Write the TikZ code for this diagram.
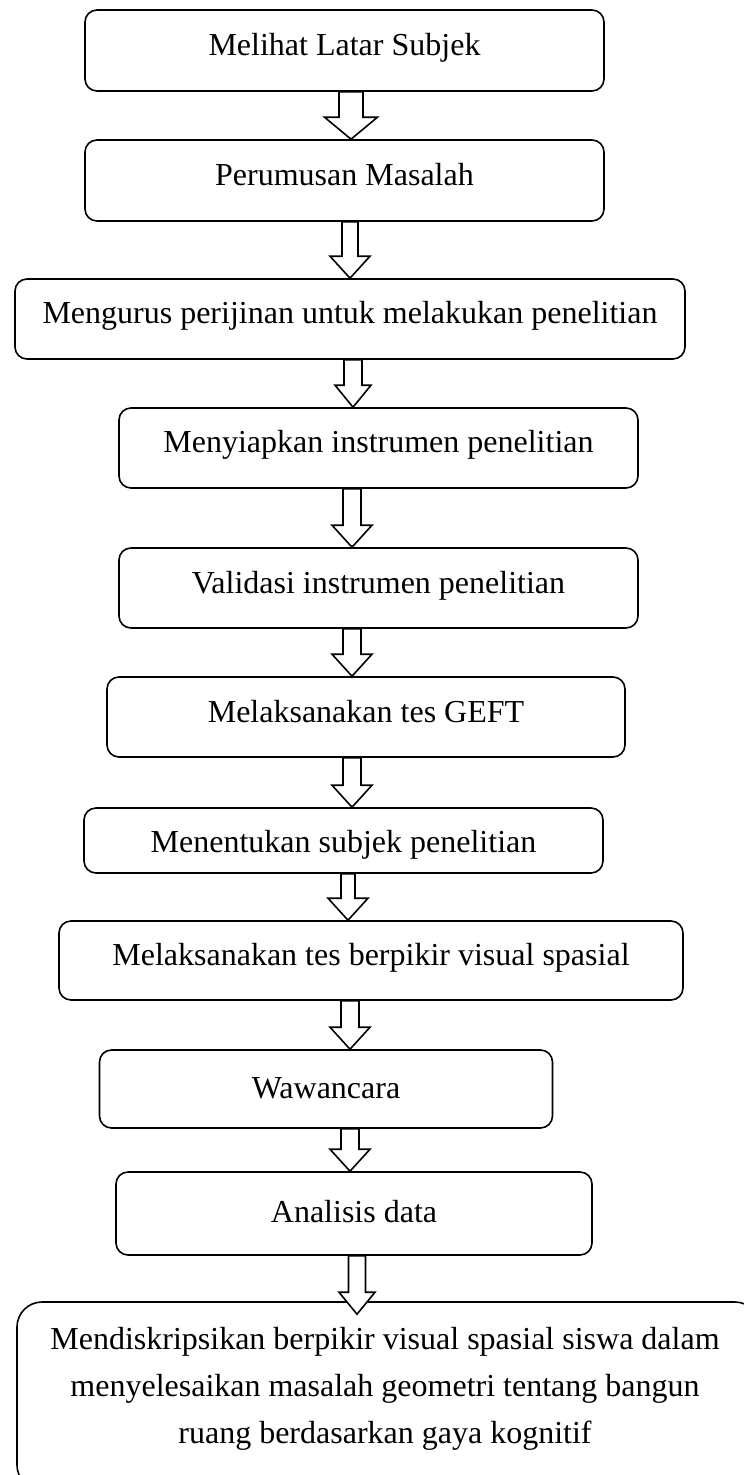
\documentclass[tikz,border=0pt]{standalone}
\usepackage{fontspec}
\setmainfont{Liberation Serif}
\usetikzlibrary{calc}
\newcommand\blockarr[6]{% x, from, to, stem half, head half, tip overlap
  \draw[barrow] let \p1=(#2.south), \p2=(#3.north) in
    (#1-#4,\y1) -- (#1+#4,\y1) -- (#1+#4,\y2+22pt-#6pt) -- (#1+#5,\y2+22pt-#6pt)
    -- (#1,\y2-#6pt) -- (#1-#5,\y2+22pt-#6pt) -- (#1-#4,\y2+22pt-#6pt) -- cycle;}
\begin{document}
\begin{tikzpicture}[x=1pt,y=-1pt,
  box/.style={draw, line width=1.6pt, rounded corners=12pt, inner sep=0pt},
  lbl/.style={font=\fontsize{32}{47}\selectfont, anchor=base, inner sep=0pt},
  barrow/.style={draw, line width=1.6pt, fill=white, line join=miter}]
\useasboundingbox (0,0) rectangle (744,1475);
\begin{scope}
\clip (0,0) rectangle (744,1475);
\node[box, minimum width=519pt, minimum height=81pt] (b1) at (344.5,50.5) {};
\node[box, minimum width=519pt, minimum height=81pt] (b2) at (344.5,180.5) {};
\node[box, minimum width=670pt, minimum height=80pt] (b3) at (350,319) {};
\node[box, minimum width=519pt, minimum height=80pt] (b4) at (378.5,448) {};
\node[box, minimum width=519pt, minimum height=80pt] (b5) at (378.5,588) {};
\node[box, minimum width=518pt, minimum height=80pt] (b6) at (366,717) {};
\node[box, minimum width=519pt, minimum height=65pt] (b7) at (343.5,840.5) {};
\node[box, minimum width=624pt, minimum height=79pt] (b8) at (371,960.5) {};
\node[box, minimum width=453pt, minimum height=78pt] (b9) at (326,1089) {};
\node[box, minimum width=476pt, minimum height=83pt] (b10) at (354,1213.5) {};
\node[box, rounded corners=25pt, minimum width=743pt, minimum height=188pt] (b11) at (388.5,1396) {};

\node[lbl] (t1) at (344.5,55) {Melihat Latar Subjek};
\node[lbl] (t2) at (344.5,185) {Perumusan Masalah};
\node[lbl] (t3) at (350,323) {Mengurus perijinan untuk melakukan penelitian};
\node[lbl] (t4) at (378.5,452) {Menyiapkan instrumen penelitian};
\node[lbl] (t5) at (378.5,593) {Validasi instrumen penelitian};
\node[lbl] (t6) at (366,722) {Melaksanakan tes GEFT};
\node[lbl] (t7) at (343.5,852) {Menentukan subjek penelitian};
\node[lbl] (t8) at (371,965) {Melaksanakan tes berpikir visual spasial};
\node[lbl] (t9) at (326,1098) {Wawancara};
\node[lbl] (t10) at (354,1222) {Analisis data};
\node[lbl, align=center] (t11) at (385,1443) {Mendiskripsikan berpikir visual spasial siswa dalam\\menyelesaikan masalah geometri tentang bangun\\ruang berdasarkan gaya kognitif};

\blockarr{351}{b1}{b2}{12}{26.5}{0}
\blockarr{350}{b2}{b3}{8}{20}{0}
\blockarr{353}{b3}{b4}{9}{18}{0}
\blockarr{352}{b4}{b5}{9}{20}{0}
\blockarr{352}{b5}{b6}{9}{20}{0}
\blockarr{352}{b6}{b7}{9}{20}{0}
\blockarr{348}{b7}{b8}{7}{20}{0}
\blockarr{350}{b8}{b9}{9}{20}{0}
\blockarr{350}{b9}{b10}{9}{20}{0}
\blockarr{357}{b10}{b11}{8.5}{18}{13}
\end{scope}
\end{tikzpicture}
\end{document}
